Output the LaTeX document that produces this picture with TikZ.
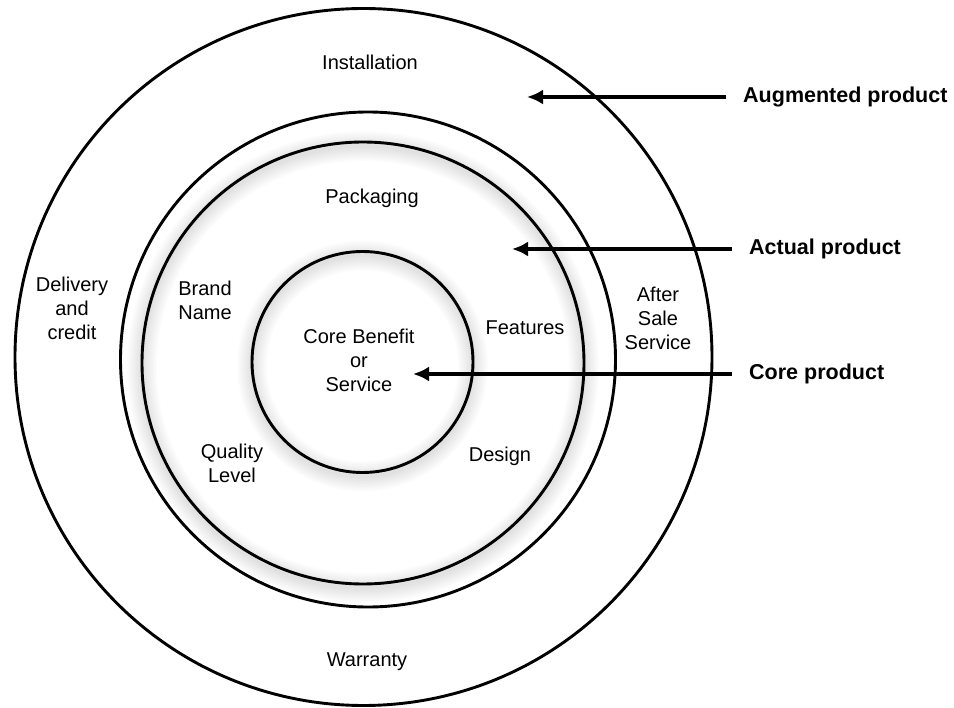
\documentclass[tikz,border=0pt]{standalone}
\usepackage{fontspec}
\setmainfont{Liberation Sans}
\usetikzlibrary{arrows.meta}
\begin{document}
\begin{tikzpicture}[x=1pt,y=-1pt,
  ring/.style={circle,draw=black,line width=2.9pt,inner sep=0pt,outer sep=0pt,minimum size=#1},
  lbl/.style={align=center,font=\fontsize{20}{24}\selectfont,inner sep=0pt},
  tag/.style={anchor=west,font=\fontsize{21.5}{26}\selectfont\bfseries,inner xsep=17pt,inner ysep=0pt},
  pointer/.style={line width=4.4pt,-{Latex[length=16pt,width=15pt]}},
  glow/.style={black,opacity=0.011}
]
\useasboundingbox (0,0) rectangle (954,708);
\fill[white] (0,0) rectangle (954,708);

% soft shadows under the two inner rings
\foreach \w in {3,6,...,30} {
  \draw[glow,line width=\w pt] (363,367) circle[radius=221];
  \draw[glow,line width=\w pt] (362.5,366) circle[radius=110.5];
}

% the four rings
\node[ring=697pt] (augmented) at (363.5,357) {};
\node[ring=495pt] (actual)    at (368,359.5) {};
\node[ring=442pt] (tangible)  at (363,363) {};
\node[ring=221pt] (core)      at (362.5,362) {};

% ring contents
\node[lbl] (install)  at (370,62)  {Installation};
\node[lbl] (warranty) at (367,662) {Warranty};
\node[lbl] (delivery) at (72,308)  {Delivery\\and\\credit};
\node[lbl] (aftersale) at (658,318) {After\\Sale\\Service};
\node[lbl] (packaging) at (372,198) {Packaging};
\node[lbl] (brand)    at (205,300) {Brand\\Name};
\node[lbl] (quality)  at (232,463) {Quality\\Level};
\node[lbl] (features) at (525,328) {Features};
\node[lbl] (design)   at (500,456) {Design};
\node[lbl] (benefit)  at (359,360) {Core Benefit\\or\\Service};

% level labels with their pointers
\node[tag] (augtag)  at (726,97)  {Augmented product};
\node[tag] (acttag)  at (732,249) {Actual product};
\node[tag] (coretag) at (732,374) {Core product};

\coordinate (augtip)  at (527,97);
\coordinate (acttip)  at (512,249);
\coordinate (coretip) at (413,374);

\draw[pointer] (augtag.west)  -- (augtip);
\draw[pointer] (acttag.west)  -- (acttip);
\draw[pointer] (coretag.west) -- (coretip);
\end{tikzpicture}
\end{document}
